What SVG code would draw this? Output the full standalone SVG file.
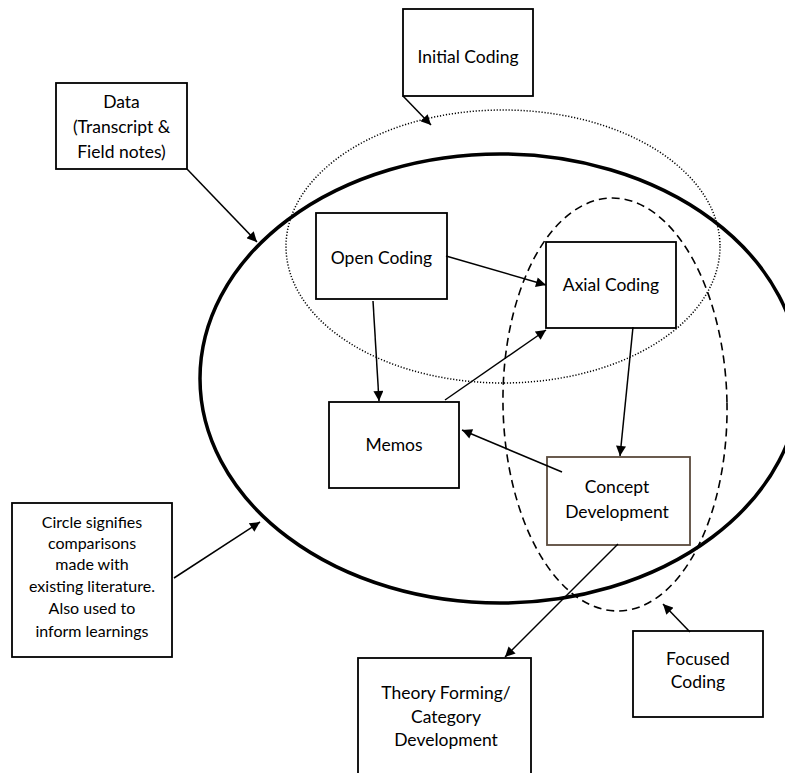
<svg xmlns="http://www.w3.org/2000/svg" width="785" height="773" viewBox="0 0 785 773">
<style>
  .box { fill: #fff; stroke: #000; stroke-width: 1.8; }
  .brown { stroke: #5a4a3c; }
  text { font-family: "Lato", "Open Sans", "Liberation Sans", sans-serif; font-size: 17.5px; fill: #000; text-anchor: middle; }
  .sm { font-size: 16px; }
  .conn line { stroke: #000; stroke-width: 1.5; marker-end: url(#ah); }
  .ell { fill: none; stroke: #000; }
</style>
<defs>
  <marker id="ah" viewBox="0 0 10 10" refX="10" refY="5" markerWidth="11" markerHeight="10" markerUnits="userSpaceOnUse" orient="auto">
    <path d="M0,0 L10,5 L0,10 z" fill="#000"/>
  </marker>
</defs>
<rect width="785" height="773" fill="#fff"/>
<g id="ellipses">
  <ellipse class="ell" cx="500" cy="378.5" rx="300" ry="224.5" stroke-width="3.5"/>
  <ellipse class="ell" cx="503" cy="246.5" rx="217" ry="136.5" stroke-width="1.5" stroke-dasharray="1.2,1.8"/>
  <ellipse class="ell" cx="615" cy="404.5" rx="112" ry="206.5" stroke-width="1.6" stroke-dasharray="8,5" transform="rotate(-1 615 404.5)"/>
</g>
<g id="data">
  <rect class="box" x="56" y="83" width="131" height="86"/>
  <text x="121.5" y="108">Data</text>
  <text x="121.5" y="133">(Transcript &amp;</text>
  <text x="121.5" y="158">Field notes)</text>
</g>
<g id="initial-coding">
  <rect class="box" x="403" y="9" width="130" height="87"/>
  <text x="468" y="63">Initial Coding</text>
</g>
<g id="open-coding">
  <rect class="box" x="316" y="213" width="131" height="86"/>
  <text x="381.5" y="264">Open Coding</text>
</g>
<g id="axial-coding">
  <rect class="box" x="546" y="242" width="130" height="86"/>
  <text x="611" y="291">Axial Coding</text>
</g>
<g id="memos">
  <rect class="box" x="329" y="402" width="130" height="86"/>
  <text x="394" y="451">Memos</text>
</g>
<g id="concept-development">
  <rect class="box brown" x="547" y="457" width="143" height="88"/>
  <text x="617" y="493">Concept</text>
  <text x="617" y="518">Development</text>
</g>
<g id="theory-forming">
  <rect class="box" x="358" y="658" width="173" height="130"/>
  <text x="446" y="699">Theory Forming/</text>
  <text x="446" y="723">Category</text>
  <text x="446" y="746">Development</text>
</g>
<g id="focused-coding">
  <rect class="box" x="633" y="631" width="130" height="86"/>
  <text x="698" y="665">Focused</text>
  <text x="698" y="688">Coding</text>
</g>
<g id="circle-note">
  <rect class="box" x="12" y="503" width="160" height="154"/>
  <text class="sm" x="92" y="528">Circle signifies</text>
  <text class="sm" x="92" y="549">comparisons</text>
  <text class="sm" x="92" y="570">made with</text>
  <text class="sm" x="92" y="592">existing literature.</text>
  <text class="sm" x="92" y="614">Also used to</text>
  <text class="sm" x="92" y="637">inform learnings</text>
</g>
<g id="connectors" class="conn">
  <line x1="187" y1="169" x2="257" y2="242"/>
  <line x1="403" y1="96" x2="431" y2="125"/>
  <line x1="446" y1="256" x2="546" y2="285"/>
  <line x1="373" y1="301" x2="379" y2="401"/>
  <line x1="445" y1="400" x2="546" y2="330"/>
  <line x1="633" y1="327" x2="620" y2="456"/>
  <line x1="562" y1="472" x2="462" y2="430"/>
  <line x1="618" y1="544" x2="505" y2="657"/>
  <line x1="690" y1="632" x2="663" y2="604"/>
  <line x1="174" y1="578" x2="260" y2="522"/>
</g>
</svg>
